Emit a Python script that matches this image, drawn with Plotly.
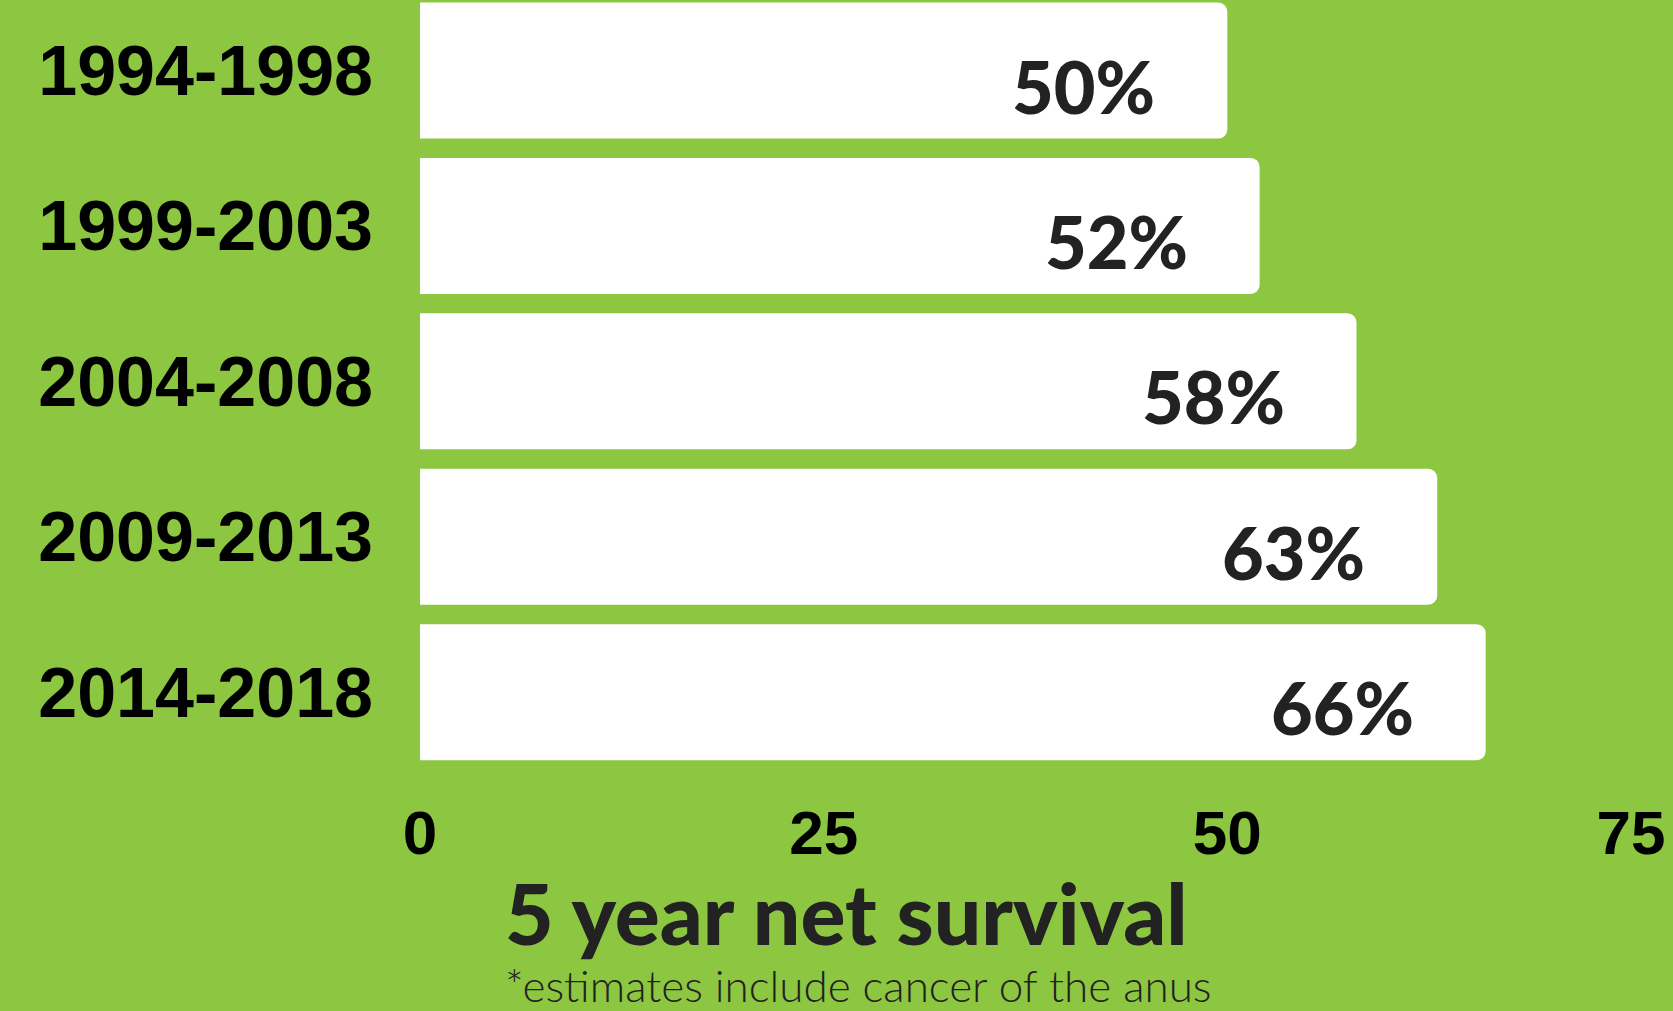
import plotly.graph_objects as go

periods = ["1994-1998", "1999-2003", "2004-2008", "2009-2013", "2014-2018"]
survival = [50, 52, 58, 63, 66]
labels = ["50%", "52%", "58%", "63%", "66%"]
x_ticks = [0, 25, 50, 75]
axis_title = "5 year net survival"
footnote = "*estimates include cancer of the anus"

BG = "rgb(141,198,64)"

fig = go.Figure()
fig.add_trace(go.Bar(
    x=survival, y=periods, orientation="h",
    marker=dict(color="white", line=dict(width=0)),
    hoverinfo="skip",
))

for v, p, t in zip(survival, periods, labels):
    fig.add_annotation(
        x=v, y=p, text=t, showarrow=False,
        xanchor="right", yanchor="middle", xshift=-70, yshift=-15,
        font=dict(family="Lato", size=72, color="#222222", weight=900),
    )

fig.add_annotation(
    xref="paper", yref="paper", x=0.3526, y=0, text=axis_title,
    showarrow=False, xanchor="center", yanchor="top", yshift=-90,
    font=dict(family="Lato", size=84, color="#222222", weight=900),
)
fig.add_annotation(
    xref="paper", yref="paper", x=0.3617, y=0, text=footnote,
    showarrow=False, xanchor="center", yanchor="top", yshift=-187,
    font=dict(family="Lato", size=44, color="#222222", weight=300),
)

fig.update_layout(
    width=1673, height=1011,
    margin=dict(l=420, r=42, t=0, b=241, pad=0),
    paper_bgcolor=BG, plot_bgcolor=BG,
    bargap=0.125, barcornerradius=9,
    showlegend=False,
    xaxis=dict(
        range=[0, 75], tickvals=x_ticks, ticktext=[str(v) for v in x_ticks],
        showgrid=False, zeroline=False, showline=False, ticks="",
        ticklabelstandoff=21,
        tickfont=dict(family="Liberation Sans", size=62, color="#000000", weight=700),
    ),
    yaxis=dict(
        type="category", categoryorder="array", categoryarray=periods,
        range=[4.501, -0.454],
        showgrid=False, zeroline=False, showline=False, ticks="",
        ticklabelstandoff=46,
        tickfont=dict(family="Liberation Sans", size=70, color="#000000", weight=700),
    ),
)

fig.write_html("out.html", config={"displayModeBar": False},
               post_script="document.body.style.margin='0';document.body.style.overflow='hidden';")
